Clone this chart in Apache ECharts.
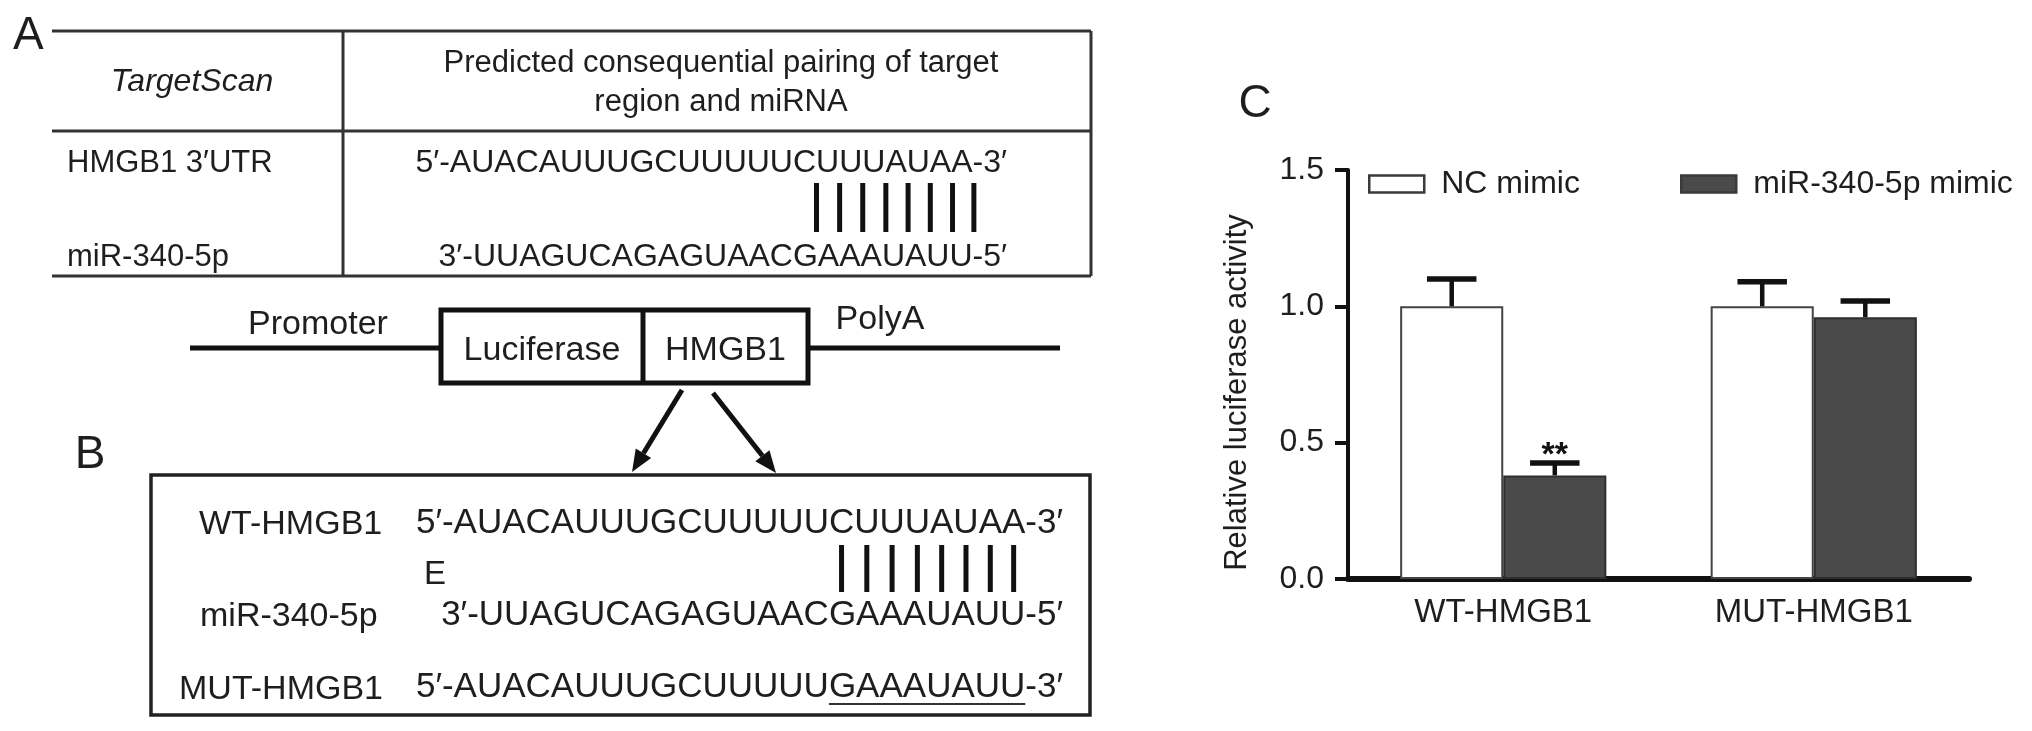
<!DOCTYPE html>
<html>
<head>
<meta charset="utf-8">
<title>miR-340-5p targets HMGB1</title>
<script src="https://cdn.jsdelivr.net/npm/echarts@6/dist/echarts.min.js"></script>
<style>
  html, body { margin: 0; padding: 0; background: #fff; }
  #main { width: 2032px; height: 731px; }
</style>
</head>
<body>
<div id="main"></div>
<script>
// ---- panel C values ----
const categories = ['WT-HMGB1', 'MUT-HMGB1'];
const groupNames = ['NC mimic', 'miR-340-5p mimic'];
const ncMean = [1.0, 1.0];
const ncUpper = [1.10, 1.09];
const mimicMean = [0.38, 0.96];
const mimicUpper = [0.425, 1.02];
const mimicSig = ['**', ''];
const yTicks = [0.0, 0.5, 1.0, 1.5];

// ---- panel A / B text ----
const tableHeader = ['TargetScan', 'Predicted consequential pairing of target', 'region and miRNA'];
const tableRowLabels = ['HMGB1 3′UTR', 'miR-340-5p'];
const utrSeq = '5′-AUACAUUUGCUUUUUCUUUAUAA-3′';
const mirSeq = '3′-UUAGUCAGAGUAACGAAAUAUU-5′';
const mutSeq = '5′-AUACAUUUGCUUUUUGAAAUAUU-3′';
const seedSite = 'CUUUAUAA';
const mutSite = 'GAAAUAUU';
const constructParts = ['Promoter', 'Luciferase', 'HMGB1', 'PolyA'];
const panelBLabels = ['WT-HMGB1', 'miR-340-5p', 'MUT-HMGB1'];
const panelLetters = ['A', 'B', 'C'];

const FAMILY = '"Liberation Sans", Arial, Helvetica, sans-serif';
const INK = '#1e1e1e';
const BAR_FRAC = 0.332;

const ctx = document.createElement('canvas').getContext('2d');
function textW(str, font) {
  ctx.font = font;
  return ctx.measureText(str).width;
}
function fnt(size, style) {
  return (style ? style + ' ' : '') + size + 'px ' + FAMILY;
}

const g = [];
function line(x1, y1, x2, y2, w, color) {
  g.push({ type: 'line', shape: { x1, y1, x2, y2 }, style: { stroke: color || '#222', lineWidth: w } });
}
function txt(str, x, y, size, align, style) {
  g.push({
    type: 'text', x, y,
    style: { text: str, font: fnt(size, style), fill: INK, textAlign: align || 'left', textVerticalAlign: 'middle' }
  });
}
function arrow(x1, y1, x2, y2) {
  const a = Math.atan2(y2 - y1, x2 - x1);
  const L = 22, H = 9;
  const bx = x2 - L * Math.cos(a), by = y2 - L * Math.sin(a);
  line(x1, y1, bx, by, 5, '#111');
  g.push({
    type: 'polygon',
    shape: { points: [[x2, y2], [bx + H * Math.sin(a), by - H * Math.cos(a)], [bx - H * Math.sin(a), by + H * Math.cos(a)]] },
    style: { fill: '#111' }
  });
}
// vertical pairing strokes under each base of a site
function pairing(seq, site, rightX, size, y1, y2, shift) {
  const font = fnt(size);
  const start = rightX - textW(seq, font);
  const idx = seq.lastIndexOf(site);
  for (let k = 0; k < site.length; k++) {
    const cx = start + textW(seq.slice(0, idx + k), font) + textW(seq[idx + k], font) / 2 + shift;
    line(cx, y1, cx, y2, 5, '#111');
  }
}
function underline(seq, site, rightX, size, y) {
  const font = fnt(size);
  const start = rightX - textW(seq, font);
  const idx = seq.lastIndexOf(site);
  const x1 = start + textW(seq.slice(0, idx), font);
  line(x1, y, x1 + textW(site, font), y, 2, '#333');
}

// ---- panel A: table ----
txt(panelLetters[0], 13, 36, 46);
const T = { l: 52, r: 1091, top: 31, mid: 131, bot: 276, div: 343 };
line(T.l, T.top, T.r, T.top, 3, '#333');
line(T.l, T.mid, T.r, T.mid, 3, '#333');
line(T.l, T.bot, T.r, T.bot, 3, '#333');
line(T.div, T.top, T.div, T.bot, 3, '#333');
line(T.r, T.top, T.r, T.bot, 3, '#333');
txt(tableHeader[0], 192, 82, 32, 'center', 'italic');
txt(tableHeader[1], (T.div + T.r) / 2 + 4, 63, 31, 'center');
txt(tableHeader[2], (T.div + T.r) / 2 + 4, 102, 31, 'center');
txt(tableRowLabels[0], 67, 163, 31);
txt(tableRowLabels[1], 67, 257, 31);
const seqRightA = 1007;
txt(utrSeq, seqRightA, 163, 32, 'right');
txt(mirSeq, seqRightA, 257, 32, 'right');
pairing(utrSeq, seedSite, seqRightA, 32, 183, 232, 12);

// ---- panel A: reporter construct ----
const C = { y: 348, l0: 190, bl: 441, bd: 643, br: 808, r0: 1060, bt: 310, bb: 383 };
line(C.l0, C.y, C.bl, C.y, 5, '#111');
line(C.br, C.y, C.r0, C.y, 5, '#111');
g.push({ type: 'rect', shape: { x: C.bl, y: C.bt, width: C.br - C.bl, height: C.bb - C.bt }, style: { fill: 'none', stroke: '#111', lineWidth: 5 } });
line(C.bd, C.bt, C.bd, C.bb, 5, '#111');
txt(constructParts[0], 318, 325, 34, 'center');
txt(constructParts[1], (C.bl + C.bd) / 2, 351, 34, 'center');
txt(constructParts[2], (C.bd + C.br) / 2, 351, 34, 'center');
txt(constructParts[3], 880, 320, 34, 'center');
arrow(682, 390, 632, 472);
arrow(713, 393, 776, 473);

// ---- panel B ----
txt(panelLetters[1], 90, 455, 46, 'center');
g.push({ type: 'rect', shape: { x: 151, y: 475, width: 939, height: 240 }, style: { fill: 'none', stroke: '#222', lineWidth: 3.5 } });
const seqRightB = 1063;
txt(panelBLabels[0], 199, 525, 34);
txt(utrSeq, seqRightB, 523, 35, 'right');
txt('E', 424, 575, 33);
txt(panelBLabels[1], 200, 617, 34);
txt(mirSeq, seqRightB, 615, 35, 'right');
txt(panelBLabels[2], 179, 690, 34);
txt(mutSeq, seqRightB, 687, 35, 'right');
pairing(utrSeq, seedSite, seqRightB, 35, 545, 592, 0);
underline(mutSeq, mutSite, seqRightB, 35, 704);

// ---- panel C letter ----
txt(panelLetters[2], 1255, 104, 46, 'center');

function errorSeries(means, uppers, side, marks) {
  return {
    type: 'custom',
    z: 5,
    silent: true,
    data: means.map((m, i) => [i, m, uppers[i]]),
    renderItem: (params, api) => {
      const i = api.value(0);
      const base = api.coord([i, api.value(1)]);
      const top = api.coord([i, api.value(2)]);
      const bw = api.size([1, 0])[0] * BAR_FRAC;
      const x = base[0] + side * bw / 2;
      const capHalf = bw * 0.24;
      const children = [
        { type: 'line', shape: { x1: x, y1: base[1], x2: x, y2: top[1] }, style: { stroke: '#111', lineWidth: 4.5 } },
        { type: 'line', shape: { x1: x - capHalf, y1: top[1], x2: x + capHalf, y2: top[1] }, style: { stroke: '#111', lineWidth: 5.5 } }
      ];
      if (marks && marks[i]) {
        children.push({
          type: 'text', x: x, y: top[1] - 7,
          style: { text: marks[i], font: fnt(34, 'bold'), fill: '#111', textAlign: 'center', textVerticalAlign: 'middle' }
        });
      }
      return { type: 'group', children };
    }
  };
}

const legendBase = {
  top: 163,
  icon: 'rect',
  itemWidth: 55,
  itemHeight: 17,
  selectedMode: false,
  textStyle: { fontSize: 32, color: INK, fontFamily: FAMILY, padding: [0, 0, 0, 12] },
  itemStyle: { borderWidth: 2.5, borderColor: '#3a3a3a' }
};

const option = {
  animation: false,
  backgroundColor: '#fff',
  textStyle: { fontFamily: FAMILY },
  graphic: { elements: g },
  grid: { left: 1348, right: 63, top: 170, bottom: 152 },
  legend: [
    Object.assign({}, legendBase, { data: [groupNames[0]], left: 1363 }),
    Object.assign({}, legendBase, { data: [groupNames[1]], left: 1675 })
  ],
  xAxis: {
    type: 'category',
    data: categories,
    axisLine: { lineStyle: { color: '#111', width: 6 } },
    axisTick: { show: false },
    axisLabel: { fontSize: 33, color: INK, margin: 17 }
  },
  yAxis: {
    type: 'value',
    min: yTicks[0],
    max: yTicks[yTicks.length - 1],
    interval: yTicks[1] - yTicks[0],
    name: 'Relative luciferase activity',
    nameLocation: 'middle',
    nameGap: 95,
    nameRotate: 90,
    nameTextStyle: { fontSize: 31, color: INK, padding: [0, 36, 0, 0] },
    axisLine: { show: true, lineStyle: { color: '#111', width: 4 } },
    axisTick: { show: true, length: 13, lineStyle: { color: '#111', width: 4 } },
    splitLine: { show: false },
    axisLabel: { fontSize: 32, color: INK, margin: 24, formatter: v => v.toFixed(1) }
  },
  series: [
    {
      name: groupNames[0],
      type: 'bar',
      data: ncMean,
      barWidth: (BAR_FRAC * 100) + '%',
      barGap: '0%',
      itemStyle: { color: '#ffffff', borderColor: '#444', borderWidth: 2 }
    },
    {
      name: groupNames[1],
      type: 'bar',
      data: mimicMean,
      barWidth: (BAR_FRAC * 100) + '%',
      barGap: '0%',
      itemStyle: { color: '#4a4a4a', borderColor: '#2e2e2e', borderWidth: 2 }
    },
    errorSeries(ncMean, ncUpper, -1, null),
    errorSeries(mimicMean, mimicUpper, 1, mimicSig)
  ]
};

const chart = echarts.init(document.getElementById('main'), null, { renderer: 'canvas' });
chart.setOption(option);
</script>
</body>
</html>
